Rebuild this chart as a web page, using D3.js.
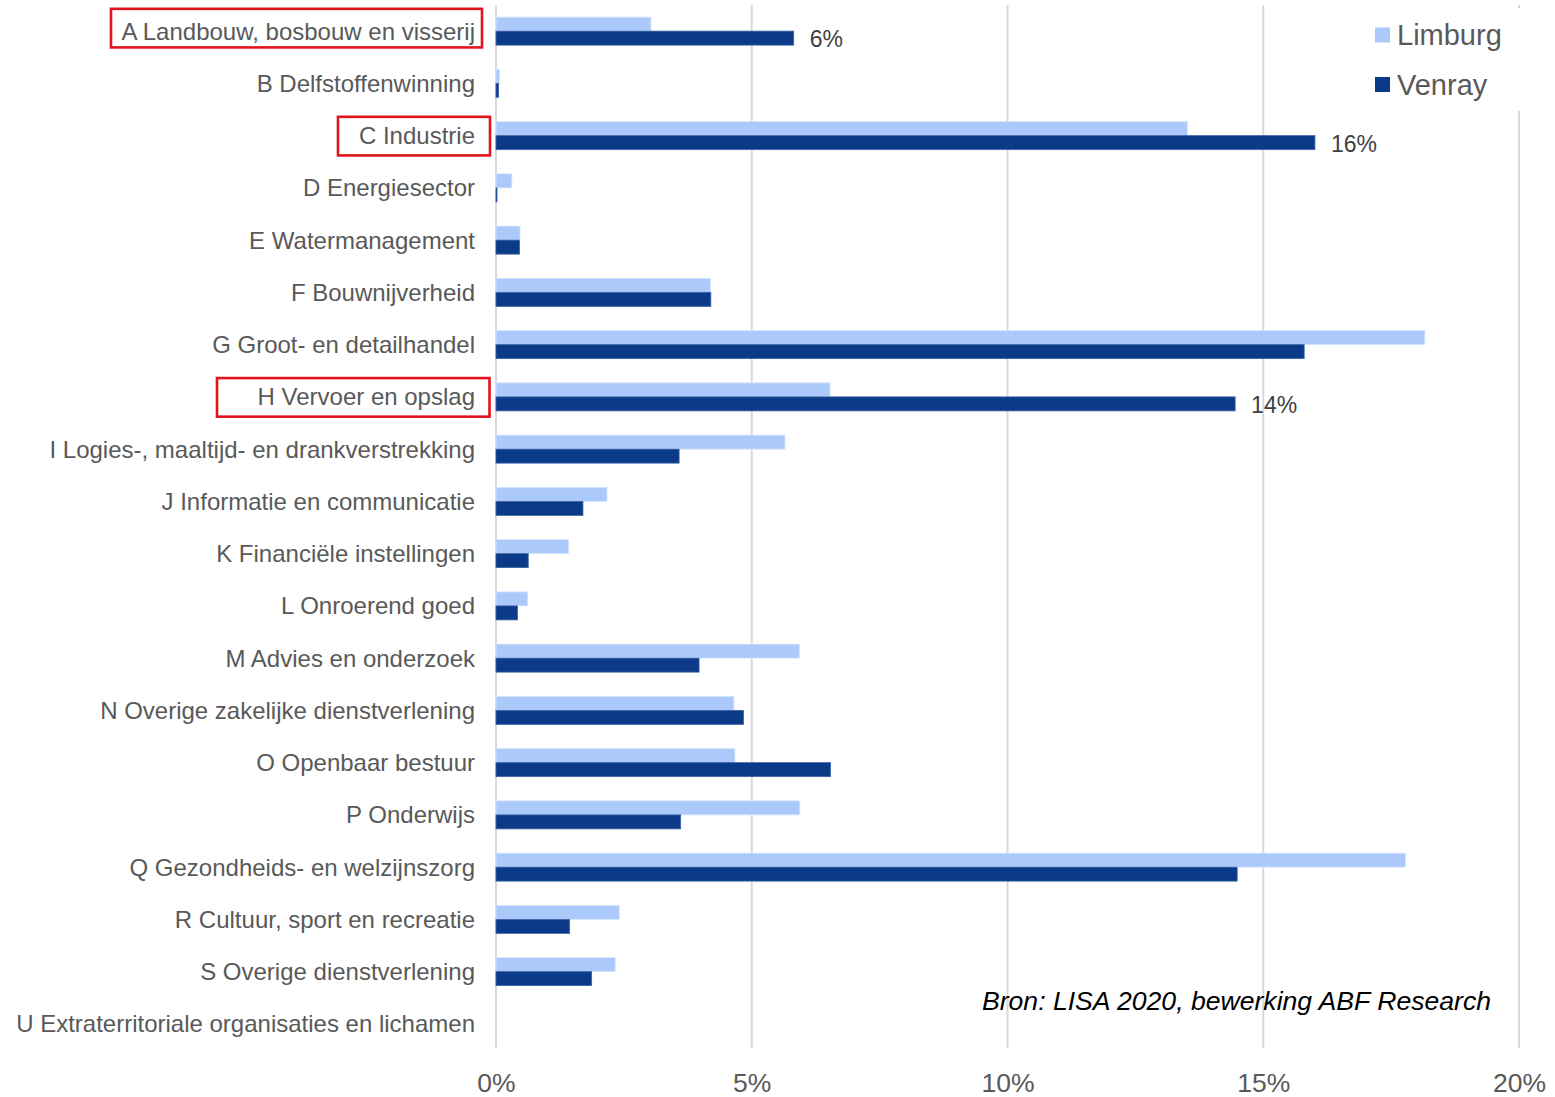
<!DOCTYPE html>
<html lang="nl">
<head>
<meta charset="utf-8">
<title>Werkgelegenheid per sector – Limburg en Venray</title>
<script src="https://cdn.jsdelivr.net/npm/d3@7"></script>
<style>
  html, body { margin: 0; padding: 0; background: #ffffff; }
  svg { display: block; font-family: "Liberation Sans", Arial, Helvetica, sans-serif; }
</style>
</head>
<body>
<svg id="chart" width="1555" height="1097"></svg>
<script>
// Sectoren (SBI-secties)
const categories = [
  "A Landbouw, bosbouw en visserij",
  "B Delfstoffenwinning",
  "C Industrie",
  "D Energiesector",
  "E Watermanagement",
  "F Bouwnijverheid",
  "G Groot- en detailhandel",
  "H Vervoer en opslag",
  "I Logies-, maaltijd- en drankverstrekking",
  "J Informatie en communicatie",
  "K Financiële instellingen",
  "L Onroerend goed",
  "M Advies en onderzoek",
  "N Overige zakelijke dienstverlening",
  "O Openbaar bestuur",
  "P Onderwijs",
  "Q Gezondheids- en welzijnszorg",
  "R Cultuur, sport en recreatie",
  "S Overige dienstverlening",
  "U Extraterritoriale organisaties en lichamen"
];

const seriesNames = ["Limburg", "Venray"];

// Aandeel werkzame personen per sector (in %)
const limburgValues = [3.03, 0.07, 13.52, 0.31, 0.47, 4.19, 18.16, 6.53, 5.65, 2.17,
                       1.42, 0.62, 5.93, 4.65, 4.67, 5.94, 17.78, 2.41, 2.33, 0.0];
const venrayValues  = [5.82, 0.05, 16.01, 0.02, 0.46, 4.20, 15.80, 14.45, 3.58, 1.70,
                       0.63, 0.42, 3.97, 4.84, 6.54, 3.61, 14.49, 1.44, 1.87, 0.0];

// Sectoren waarvan de waarde voor Venray als label wordt getoond
const labelledCategories = ["A Landbouw, bosbouw en visserij", "C Industrie", "H Vervoer en opslag"];

const tickValues = [0, 5, 10, 15, 20];
const sourceText = "Bron: LISA 2020, bewerking ABF Research";

const colors = { Limburg: "#abcafb", Venray: "#0b3a88" };
const textGray = "#595959";

const svg = d3.select("#chart");

const x = d3.scaleLinear().domain([0, 20]).range([496, 1519]);
const y = d3.scaleBand().domain(categories).range([5, 1050])
  .paddingInner(0.464).paddingOuter(0.232);
const ySub = d3.scaleBand().domain(seriesNames).range([0, y.bandwidth()]);

const rows = categories.map((c, i) => ({
  category: c,
  values: [
    { series: "Limburg", value: limburgValues[i] },
    { series: "Venray", value: venrayValues[i] }
  ]
}));

// Verticale rasterlijnen
svg.append("g").attr("class", "grid")
  .selectAll("line").data(tickValues).join("line")
  .attr("x1", d => x(d)).attr("x2", d => x(d))
  .attr("y1", 5).attr("y2", 1048)
  .attr("stroke", "#d9d9d9").attr("stroke-width", 2);

// X-as labels
const xAxis = d3.axisBottom(x).tickValues(tickValues).tickSize(0).tickPadding(0)
  .tickFormat(d => d + "%");
const gx = svg.append("g").attr("transform", "translate(0,1083)").call(xAxis);
gx.select(".domain").remove();
gx.selectAll("text")
  .attr("dy", "0.35em").attr("y", 0)
  .attr("fill", textGray)
  .style("font-size", "26.5px")
  .style("font-family", "'Liberation Sans', Arial, sans-serif");

// Y-as labels (sectornamen)
const yAxis = d3.axisLeft(y).tickSize(0).tickPadding(0);
const gy = svg.append("g").attr("transform", "translate(475,0)").call(yAxis);
gy.select(".domain").remove();
gy.selectAll("text")
  .attr("x", 0).attr("dy", "0.35em")
  .attr("fill", textGray)
  .style("font-size", "24px")
  .style("font-family", "'Liberation Sans', Arial, sans-serif");

// Staven
const groups = svg.append("g").attr("class", "bars")
  .selectAll("g").data(rows).join("g")
  .attr("transform", d => `translate(0,${y(d.category)})`);

groups.selectAll("rect").data(d => d.values).join("rect")
  .attr("x", x(0))
  .attr("y", d => ySub(d.series))
  .attr("width", d => x(d.value) - x(0))
  .attr("height", ySub.bandwidth())
  .attr("fill", d => colors[d.series])
  .attr("stroke", d => d.series === "Venray" ? "#3d63a6" : "#d6e5fd")
  .attr("stroke-width", d => d.value > 0 ? 0.8 : 0);

// Waardelabels Venray
rows.filter(r => labelledCategories.includes(r.category)).forEach(r => {
  const v = r.values[1];
  svg.append("text")
    .attr("x", x(v.value) + 16)
    .attr("y", y(r.category) + ySub("Venray") + ySub.bandwidth() / 2 + 1)
    .attr("dy", "0.35em")
    .attr("fill", "#404040")
    .style("font-size", "23px")
    .text(Math.round(v.value) + "%");
});

// Rode markeringskaders rond geselecteerde sectoren
const markBoxes = [
  { category: "A Landbouw, bosbouw en visserij", x0: 111, x1: 482, dy: -3 },
  { category: "C Industrie", x0: 338, x1: 490, dy: 0.5 },
  { category: "H Vervoer en opslag", x0: 217, x1: 489.5, dy: 0.5 }
];
svg.append("g").attr("class", "marks")
  .selectAll("rect").data(markBoxes).join("rect")
  .attr("x", d => d.x0)
  .attr("y", d => y(d.category) + y.bandwidth() / 2 + d.dy - 19.3)
  .attr("width", d => d.x1 - d.x0)
  .attr("height", 38.6)
  .attr("fill", "none")
  .attr("stroke", "#e3131b")
  .attr("stroke-width", 2.6);

// Legenda
const legend = svg.append("g").attr("class", "legend");
legend.append("rect")
  .attr("x", 1362).attr("y", 8).attr("width", 163).attr("height", 103)
  .attr("fill", "#ffffff");
const legendItems = legend.selectAll("g.item").data(seriesNames).join("g")
  .attr("class", "item")
  .attr("transform", (d, i) => `translate(1375,${35 + i * 49.5})`);
legendItems.append("rect")
  .attr("x", 0).attr("y", -7.5).attr("width", 15).attr("height", 15)
  .attr("fill", d => colors[d]);
legendItems.append("text")
  .attr("x", 22).attr("y", 0).attr("dy", "0.35em")
  .attr("fill", textGray)
  .style("font-size", "29px")
  .text(d => d);

// Bronvermelding
svg.append("text")
  .attr("x", 1491).attr("y", 1001).attr("dy", "0.35em")
  .attr("text-anchor", "end")
  .attr("fill", "#000000")
  .style("font-size", "26.6px")
  .style("font-style", "italic")
  .text(sourceText);
</script>
</body>
</html>
